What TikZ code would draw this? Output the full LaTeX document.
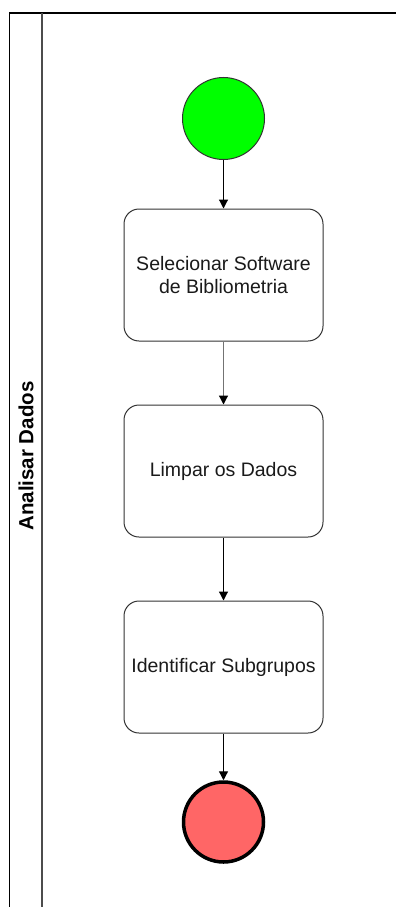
\documentclass[tikz,border=0pt]{standalone}
\usepackage{fontspec}
\setmainfont{Liberation Sans}
\usetikzlibrary{arrows.meta}
\definecolor{startgreen}{HTML}{00FF00}
\definecolor{endred}{HTML}{FF6666}
\definecolor{edgegray}{HTML}{333333}
\definecolor{textgray}{HTML}{1A1A1A}
\tikzset{
  taskbox/.style={draw=edgegray, line width=1pt, rounded corners=15pt, fill=white,
    minimum width=199pt, minimum height=132pt, align=center, text=textgray,
    font=\fontsize{19.5}{23.5}\selectfont},
  flow/.style={draw=black, line width=1.2pt, -{Triangle[length=9pt,width=9pt,fill=black]}},
  grayflow/.style={flow, draw=black!55, -{Triangle[length=9pt,width=9pt,fill=black,color=black]}},
  startev/.style={circle, draw=edgegray, line width=1pt, fill=startgreen, minimum size=82pt, inner sep=0pt},
  endev/.style={circle, draw=black, line width=3.5pt, fill=endred, minimum size=80pt, inner sep=0pt},
}
\begin{document}
\begin{tikzpicture}[x=1pt,y=-1pt]
\useasboundingbox (0,0) rectangle (396,907);
% pool frame
\draw[black, line width=1.5pt] (9.5,907) -- (9.5,13) -- (396,13);
\draw[black!70, line width=1.5pt] (42,13) -- (42,907);
\node[rotate=90, font=\bfseries\fontsize{20.5}{24}\selectfont] (lane) at (26,456) {Analisar Dados};
% nodes
\node[startev] (s) at (223.5,118.5) {};
\node[taskbox] (t1) at (223.5,275) {Selecionar Software\\de Bibliometria};
\node[taskbox] (t2) at (223.5,471) {Limpar os Dados};
\node[taskbox] (t3) at (223.5,667) {Identificar Subgrupos};
\node[endev] (e) at (223.5,822) {};
% flows
\draw[flow] (s) -- (t1);
\draw[grayflow] (t1) -- (t2);
\draw[flow] (t2) -- (t3);
\draw[flow] (t3) -- (e);
\end{tikzpicture}
\end{document}
